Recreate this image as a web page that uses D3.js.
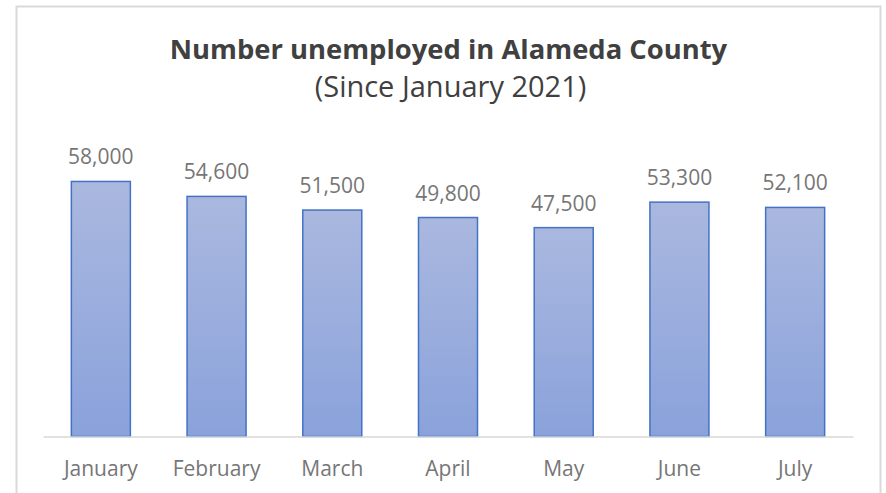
<!DOCTYPE html>
<html>
<head>
<meta charset="utf-8">
<script src="https://cdn.jsdelivr.net/npm/d3@7/dist/d3.min.js"></script>
<style>
  html, body { margin: 0; padding: 0; background: #fff; }
  svg { display: block; }
  text { font-family: "Open Sans", "Noto Sans", sans-serif; }
</style>
</head>
<body>
<svg id="chart" width="886" height="493"></svg>
<script>
const categories = ["January", "February", "March", "April", "May", "June", "July"];
const values = [58000, 54600, 51500, 49800, 47500, 53300, 52100];
const titleText = "Number unemployed in Alameda County";
const subtitleText = "(Since January 2021)";

const svg = d3.select("#chart");

// chart border
svg.append("rect")
  .attr("x", 16.5).attr("y", 6.5)
  .attr("width", 864).attr("height", 500)
  .attr("fill", "#fff")
  .attr("stroke", "#d9d9d9").attr("stroke-width", 2);

const defs = svg.append("defs");
const grad = defs.append("linearGradient")
  .attr("id", "barGrad").attr("x1", 0).attr("y1", 0).attr("x2", 0).attr("y2", 1);
grad.append("stop").attr("offset", "0%").attr("stop-color", "#aab8df");
grad.append("stop").attr("offset", "100%").attr("stop-color", "#8aa2db");

const x = d3.scaleBand().domain(categories).range([43, 853]).paddingInner(0.49).paddingOuter(0.245);
const y = d3.scaleLinear().domain([0, 70000]).range([436.5, 128.7]);

// bars
svg.append("g").selectAll("rect")
  .data(values)
  .join("rect")
  .attr("x", (d, i) => x(categories[i]))
  .attr("y", d => y(d))
  .attr("width", x.bandwidth())
  .attr("height", d => y(0) - y(d))
  .attr("fill", "url(#barGrad)")
  .attr("stroke", "#4472c4")
  .attr("stroke-width", 1.5);

// axis
const xAxis = d3.axisBottom(x).tickSize(0).tickPadding(28);
const gx = svg.append("g").attr("transform", `translate(0,${y(0)})`).call(xAxis);
gx.select(".domain").attr("stroke", "#d9d9d9").attr("stroke-width", 1.5);
gx.selectAll("text")
  .attr("fill", "#767676")
  .style("font-size", "21px")
  .attr("dy", "0.55em");

// data labels
const fmt = d3.format(",");
svg.append("g").selectAll("text")
  .data(values)
  .join("text")
  .attr("x", (d, i) => x(categories[i]) + x.bandwidth() / 2)
  .attr("y", d => y(d) - 17)
  .attr("text-anchor", "middle")
  .attr("fill", "#767676")
  .style("font-size", "21px")
  .text(d => fmt(d));

// titles
svg.append("text")
  .attr("x", 448.5).attr("y", 58.5)
  .attr("text-anchor", "middle")
  .attr("fill", "#404040")
  .style("font-size", "27.4px").style("font-weight", "bold")
  .text(titleText);
svg.append("text")
  .attr("x", 450.5).attr("y", 97)
  .attr("text-anchor", "middle")
  .attr("fill", "#404040")
  .style("font-size", "29px")
  .text(subtitleText);
</script>
</body>
</html>
